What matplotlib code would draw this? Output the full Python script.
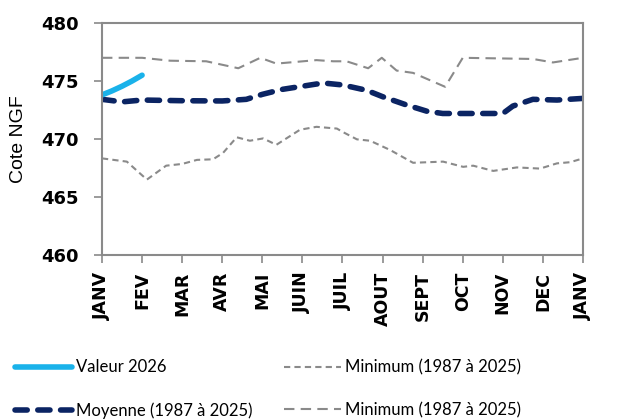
import matplotlib
matplotlib.use("Agg")
import matplotlib.pyplot as plt

month_labels = ["JANV", "FEV", "MAR", "AVR", "MAI", "JUIN", "JUIL", "AOUT",
                "SEPT", "OCT", "NOV", "DEC", "JANV"]

# Valeur 2026
val_x = [0.0, 0.25, 0.5, 0.75, 1.0]
val_y = [473.8, 474.15, 474.55, 475.0, 475.5]

# Moyenne (1987 à 2025)
moy_x = [0.0, 0.5, 1.0, 2.0, 3.0, 3.6, 4.0, 4.5, 5.35, 5.6, 6.0, 6.6, 7.0, 7.6,
         8.1, 8.5, 9.0, 10.0, 10.25, 10.75, 11.35, 12.0]
moy_y = [473.42, 473.2, 473.36, 473.3, 473.28, 473.42, 473.85, 474.28, 474.74,
         474.8, 474.66, 474.2, 473.65, 472.93, 472.4, 472.2, 472.2, 472.2,
         472.84, 473.42, 473.36, 473.5]

# Minimum (1987 à 2025) - lower line
min_x = [0.0, 0.62, 1.12, 1.6, 2.0, 2.37, 2.77, 3.02, 3.36, 3.69, 4.02, 4.35,
         4.94, 5.35, 5.86, 6.01, 6.36, 6.69, 7.19, 7.76, 8.51, 9.01, 9.26,
         9.76, 10.35, 10.93, 11.35, 11.68, 12.0]
min_y = [468.33, 468.05, 466.5, 467.7, 467.85, 468.2, 468.25, 468.8, 470.15,
         469.85, 470.05, 469.5, 470.8, 471.05, 470.9, 470.6, 469.97, 469.85,
         469.05, 467.95, 468.05, 467.6, 467.7, 467.25, 467.55, 467.45, 467.9,
         468.0, 468.33]

# Upper line (labelled "Minimum (1987 à 2025)" in the source)
max_x = [0.0, 1.0, 1.7, 2.6, 3.4, 3.95, 4.35, 5.35, 5.77, 6.1, 6.64, 6.98,
         7.35, 7.76, 8.56, 9.0, 10.75, 11.25, 12.0]
max_y = [477.0, 477.0, 476.75, 476.7, 476.1, 477.0, 476.5, 476.8, 476.7,
         476.7, 476.1, 477.0, 475.9, 475.7, 474.5, 477.0, 476.9, 476.6, 477.0]

GRAY = "#8a8a8a"
NAVY = "#0b2463"
BLUE = "#1ab2ea"

fig = plt.figure(figsize=(6.17, 4.19), dpi=100)
ax = fig.add_axes([0.1653, 0.3914, 0.9449 - 0.1653, 0.9451 - 0.3914])

l_max, = ax.plot(max_x, max_y, color=GRAY, lw=1.5, dashes=(5, 3))
l_min, = ax.plot(min_x, min_y, color=GRAY, lw=1.5, dashes=(3, 2))
l_moy, = ax.plot(moy_x, moy_y, color=NAVY, lw=4.0, dashes=(2.2, 1.9),
                 dash_capstyle="round", solid_capstyle="round")
l_val, = ax.plot(val_x, val_y, color=BLUE, lw=4.0, solid_capstyle="round")

ax.set_xlim(0, 12)
ax.set_ylim(460, 480)
ax.set_yticks([460, 465, 470, 475, 480])
ax.set_xticks(range(13))
ax.set_xticklabels(month_labels, rotation=90, fontsize=12.5,
                   fontweight="bold", family="DejaVu Sans")
for t in ax.get_yticklabels():
    t.set_fontsize(13)
    t.set_fontweight("bold")
    t.set_family("DejaVu Sans")
ax.set_ylabel("Cote NGF", fontsize=14, family="Liberation Sans")
ax.yaxis.set_label_coords(-0.155, 0.5)

for s in ax.spines.values():
    s.set_color(GRAY)
    s.set_linewidth(1.5)
ax.tick_params(axis="both", color=GRAY, width=1.2, length=6, direction="out")
ax.tick_params(axis="x", pad=6)
ax.tick_params(axis="y", pad=11)

handles = [l_val, l_moy, l_min, l_max]
labels = ["Valeur 2026", "Moyenne (1987 à 2025)",
          "Minimum (1987 à 2025)", "Minimum (1987 à 2025)"]
leg = fig.legend(handles, labels, ncol=2, loc="lower left",
                 bbox_to_anchor=(0.0, -0.035), frameon=False,
                 prop={"family": "Lato", "size": 12},
                 handlelength=3.4, handletextpad=0.25, labelspacing=1.6,
                 columnspacing=1.9)

fig.savefig("out.png", dpi=100)
